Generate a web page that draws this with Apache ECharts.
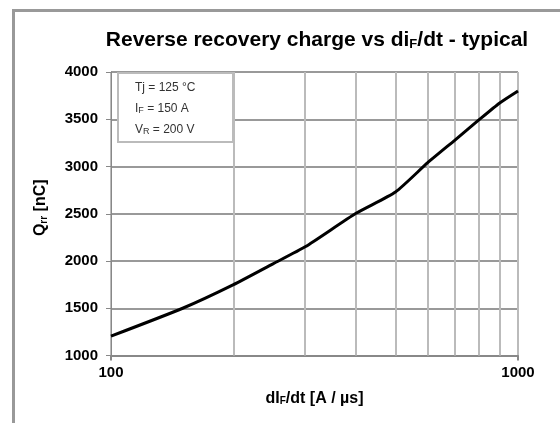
<!DOCTYPE html>
<html>
<head>
<meta charset="utf-8">
<script src="https://cdn.jsdelivr.net/npm/echarts@6/dist/echarts.min.js"></script>
<style>
html,body{margin:0;padding:0;background:#fff;}
#chart{width:560px;height:423px;}
</style>
</head>
<body>
<div id="chart"></div>
<script>
// Data
const diF_dt = [100, 150, 200, 250, 300, 400, 500, 600, 700, 800, 900, 1000];
const Qrr = [1205, 1500, 1750, 1970, 2150, 2505, 2730, 3040, 3280, 3490, 3670, 3800];
const minorGridX = [200, 300, 400, 500, 600, 700, 800, 900];
const yTicks = { min: 1000, max: 4000, interval: 500 };
const xRange = { min: 100, max: 1000 };
const conditions = [
  { main: 'Tj', sub: '', rest: ' = 125 °C' },
  { main: 'I', sub: 'F', rest: ' = 150 A' },
  { main: 'V', sub: 'R', rest: ' = 200 V' }
];

const FONT = '"Liberation Sans", Arial, sans-serif';
const chart = echarts.init(document.getElementById('chart'), null, { renderer: 'canvas' });

const condTexts = conditions.map((c, i) => ({
  type: 'text',
  left: 135,
  top: 82 + i * 21,
  style: {
    text: '{m|' + c.main + '}' + (c.sub ? '{s|' + c.sub + '}' : '') + '{m|' + c.rest + '}',
    rich: {
      m: { fontFamily: FONT, fontSize: 12, fill: '#333', verticalAlign: 'bottom', lineHeight: 14 },
      s: { fontFamily: FONT, fontSize: 9, fill: '#333', verticalAlign: 'bottom', lineHeight: 11 }
    }
  },
  z: 20
}));

const points = diF_dt.map((x, i) => [x, Qrr[i]]);

chart.setOption({
  animation: false,
  backgroundColor: '#fff',
  title: {
    text: 'Reverse recovery charge vs di{s|F}/dt - typical',
    left: 312, textAlign: 'center',
    top: 25,
    textStyle: {
      fontFamily: FONT, fontSize: 21, fontWeight: 'bold', color: '#000',
      rich: { s: { fontFamily: FONT, fontSize: 13, fontWeight: 'bold', verticalAlign: 'bottom', lineHeight: 15, color: '#000' } }
    }
  },
  grid: { left: 111, right: 42, top: 72, bottom: 67.5, containLabel: false },
  xAxis: {
    type: 'log', logBase: 10, min: xRange.min, max: xRange.max,
    name: '{b|dI}{s|F}{b|/dt [A / µs]}',
    nameLocation: 'middle', nameGap: 33,
    nameTextStyle: {
      rich: {
        b: { fontFamily: FONT, fontSize: 16, fontWeight: 'bold', color: '#000', verticalAlign: 'bottom', lineHeight: 18 },
        s: { fontFamily: FONT, fontSize: 10, fontWeight: 'bold', color: '#000', verticalAlign: 'bottom', lineHeight: 13 }
      }
    },
    axisLine: { show: true, lineStyle: { color: '#888', width: 2 } },
    axisTick: { show: true, inside: false, length: 5, lineStyle: { color: '#888', width: 2 } },
    axisLabel: { fontFamily: FONT, fontSize: 15, fontWeight: 'bold', color: '#000', margin: 10,
      formatter: v => String(v) },
    splitLine: { show: true, lineStyle: { color: '#bbb', width: 2 } },
    minorTick: { show: false }, minorSplitLine: { show: false }
  },
  yAxis: {
    type: 'value', min: yTicks.min, max: yTicks.max, interval: yTicks.interval,
    name: '{b|Q}{s|rr}{b| [nC]}',
    nameLocation: 'middle', nameRotate: 90, nameGap: 62,
    nameTextStyle: {
      padding: [0, 0, 0, 12],
      rich: {
        b: { fontFamily: FONT, fontSize: 16, fontWeight: 'bold', color: '#000', verticalAlign: 'bottom', lineHeight: 18 },
        s: { fontFamily: FONT, fontSize: 10, fontWeight: 'bold', color: '#000', verticalAlign: 'bottom', lineHeight: 13 }
      }
    },
    axisLine: { show: true, lineStyle: { color: '#888', width: 1 } },
    axisTick: { show: true, inside: false, length: 5, lineStyle: { color: '#888', width: 1 } },
    axisLabel: { fontFamily: FONT, fontSize: 15, fontWeight: 'bold', color: '#000', margin: 13,
      formatter: v => String(v) },
    splitLine: { show: true, lineStyle: { color: '#999', width: 2 } }
  },
  series: [
    {
      name: 'grid', type: 'line', data: points, z: 1, silent: true,
      showSymbol: false, lineStyle: { opacity: 0, width: 0 },
      markLine: {
        silent: true, symbol: 'none', z: 1, animation: false,
        label: { show: false },
        lineStyle: { color: '#bbb', width: 2, type: 'solid' },
        data: minorGridX.map(v => ({ xAxis: v }))
      }
    },
    {
      name: 'Qrr', type: 'line', data: points, z: 5,
      showSymbol: false, smooth: 0.2,
      lineStyle: { color: '#000', width: 3 }
    }
  ],
  graphic: [
    { type: 'line', shape: { x1: 12, y1: 10.5, x2: 560, y2: 10.5 }, style: { stroke: '#999', lineWidth: 3 }, z: 20 },
    { type: 'line', shape: { x1: 13.5, y1: 9, x2: 13.5, y2: 423 }, style: { stroke: '#999', lineWidth: 3 }, z: 20 },
    { type: 'rect', shape: { x: 118, y: 73, width: 115, height: 69 }, style: { fill: '#fff', stroke: '#bbb', lineWidth: 2 }, z: 15 }
  ].concat(condTexts)
});
</script>
</body>
</html>
